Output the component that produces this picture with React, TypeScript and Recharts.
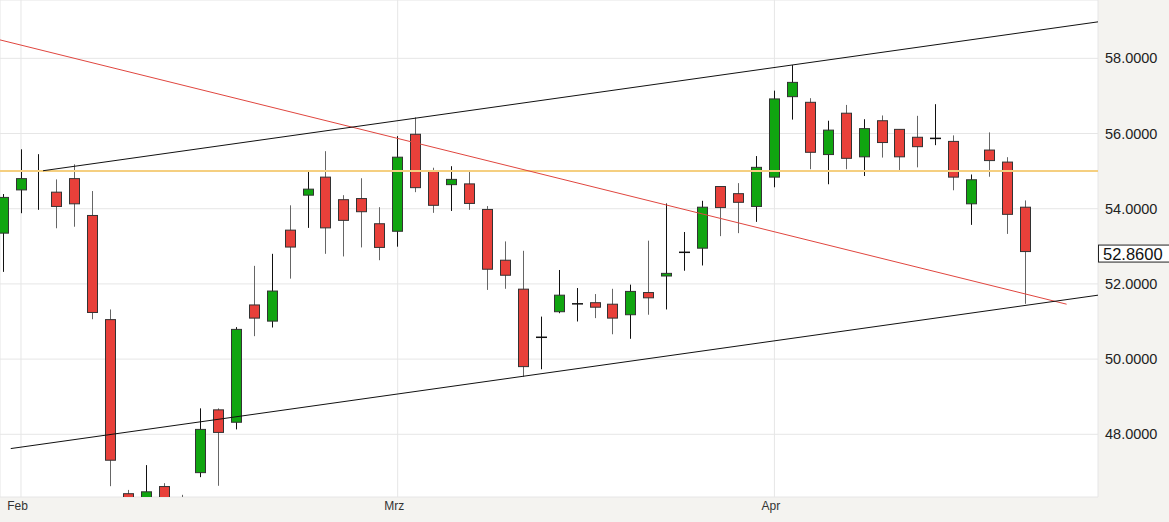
import React from 'react'
import { ComposedChart, Bar, XAxis, YAxis, CartesianGrid, ReferenceLine } from 'recharts'

// daily OHLC (index 0 = first partly visible candle)
const opens = [
  53.35, 54.5, 55.0, 54.44, 54.8, 53.82, 51.05, 46.42, 45.95, 46.61,
  46.2, 46.98, 48.65, 48.32, 51.44, 51.01, 53.43, 54.36, 54.84, 54.24,
  54.27, 53.6, 53.4, 55.98, 55.01, 54.64, 54.66, 53.98, 52.63, 51.86,
  50.58, 51.26, 51.47, 51.5, 51.46, 51.18, 51.77, 52.21, 52.84, 52.95,
  54.59, 54.4, 54.06, 54.84, 56.98, 56.83, 55.44, 56.54, 55.38, 56.34,
  56.11, 55.9, 55.87, 55.79, 54.13, 55.56, 55.24, 54.04,
]
const highs = [
  54.39, 55.58, 55.45, 54.78, 55.18, 54.47, 51.32, 46.52, 47.18, 46.7,
  46.39, 48.69, 48.69, 50.85, 52.48, 52.8, 54.09, 54.98, 55.53, 54.36,
  54.81, 54.04, 55.93, 56.43, 55.09, 55.13, 55.0, 54.07, 53.13, 52.88,
  51.13, 52.37, 51.89, 51.73, 51.87, 51.98, 53.15, 54.14, 53.38, 54.21,
  54.59, 54.68, 55.4, 57.14, 57.82, 56.94, 56.34, 56.76, 56.38, 56.48,
  56.11, 56.47, 56.78, 55.95, 54.91, 56.03, 55.37, 54.22,
]
const lows = [
  52.32, 53.88, 53.97, 53.48, 53.52, 51.06, 46.62, 45.6, 45.7, 45.8,
  45.7, 46.86, 46.63, 48.13, 50.61, 50.84, 52.14, 53.49, 52.8, 52.73,
  52.97, 52.63, 52.99, 54.44, 53.89, 53.94, 53.97, 51.84, 51.87, 49.53,
  49.73, 51.22, 51.0, 51.09, 50.66, 50.54, 51.18, 51.32, 52.35, 52.49,
  53.27, 53.35, 53.65, 54.57, 56.37, 55.05, 54.65, 55.05, 54.87, 55.36,
  55.03, 55.1, 55.69, 54.49, 53.57, 54.85, 53.33, 51.47,
]
const closes = [
  54.3, 54.8, 55.0, 54.06, 54.13, 51.24, 47.31, 45.95, 46.47, 46.05,
  45.9, 48.13, 48.05, 50.79, 51.09, 51.81, 52.98, 54.52, 53.49, 53.69,
  53.92, 52.97, 55.37, 54.56, 54.09, 54.78, 54.14, 52.39, 52.23, 49.8,
  50.58, 51.7, 51.47, 51.38, 51.09, 51.8, 51.63, 52.28, 52.84, 54.04,
  54.03, 54.17, 55.1, 56.92, 57.36, 55.5, 56.09, 55.34, 56.13, 55.76,
  55.38, 55.65, 55.87, 54.84, 54.77, 55.28, 53.85, 52.86,
]

const monthTicks = [1, 22, 43]
const monthLabels = ['Feb', 'Mrz', 'Apr']
const priceTicks = [48, 50, 52, 54, 56, 58]
const lastPrice = 52.86
const hLevel = 55.0

const upperChannel = [{ x: 2.23, y: 55.01 }, { x: 61.04, y: 58.97 }]
const lowerChannel = [{ x: 0.43, y: 47.62 }, { x: 61.04, y: 51.7 }]
const downTrend = [{ x: -0.17, y: 58.49 }, { x: 59.29, y: 51.46 }]

const data = opens.map((o, i) => ({ i, open: o, high: highs[i], low: lows[i], close: closes[i] }))

const UP = '#10a510'
const DOWN = '#e8403a'

function Candle(props: any) {
  const { x, y, width, height, payload } = props
  if (!payload || x == null) return null
  const { open, close, high, low } = payload
  const top = Math.min(y, y + height)
  const span = Math.abs(height)
  const py = (v: number) => top + ((high - v) / (high - low)) * span
  const cx = Math.round(x + width / 2) + 0.5
  const up = close > open
  const doji = Math.abs(close - open) < 0.005
  const bTop = py(Math.max(open, close))
  const bBot = py(Math.min(open, close))
  const left = Math.round(cx - width / 2)
  return (
    <g>
      <line x1={cx} x2={cx} y1={top} y2={top + span} stroke={up || doji ? '#111' : '#666'} strokeWidth={1} />
      {doji ? (
        <line x1={left} x2={left + width} y1={bTop} y2={bTop} stroke="#111" strokeWidth={1.5} />
      ) : (
        <rect
          x={left + 0.5}
          y={bTop}
          width={width - 1}
          height={Math.max(bBot - bTop, 1)}
          fill={up ? UP : DOWN}
          stroke="#333"
          strokeWidth={1}
        />
      )}
    </g>
  )
}

function PriceTag(props: any) {
  const vb = props.viewBox || {}
  const right = (vb.x || 0) + (vb.width || 0)
  const cy = (vb.y || 0) + 2
  return (
    <g>
      <rect x={right + 0.5} y={cy - 8.5} width={80} height={17} fill="#fff" stroke="#222" strokeWidth={1} />
      <text x={right + 5} y={cy} dominantBaseline="central" fontSize={16.5} fill="#111" fontFamily="Liberation Sans, Arial, sans-serif">
        {lastPrice.toFixed(4)}
      </text>
    </g>
  )
}

export default function App() {
  return (
    <div style={{ width: 1169, height: 522, background: '#f4f3f0' }}>
      <style>{`body{margin:0}`}</style>
      <ComposedChart
        width={1169}
        height={522}
        data={data}
        margin={{ top: 0, right: 0, bottom: 0, left: 0 }}
        style={{ fontFamily: 'Liberation Sans, Arial, sans-serif' }}
      >
        <CartesianGrid stroke="#e6e6e6" fill="#ffffff" ticks={undefined} />
        <XAxis
          dataKey="i"
          type="number"
          domain={[-0.17, 61.04]}
          allowDataOverflow
          ticks={monthTicks}
          tickFormatter={(v: number) => monthLabels[monthTicks.indexOf(v)] ?? ''}
          axisLine={false}
          tickLine={false}
          tickSize={0}
          tickMargin={4}
          height={25}
          tick={{ fontSize: 12, fill: '#333', dx: -3.5 }}
        />
        <YAxis
          orientation="right"
          type="number"
          domain={[46.332, 59.551]}
          allowDataOverflow
          ticks={priceTicks}
          tickFormatter={(v: number) => v.toFixed(4)}
          axisLine={false}
          tickLine={false}
          tickSize={0}
          tickMargin={7}
          width={71}
          tick={{ fontSize: 14.5, fill: '#222' }}
        />
        <ReferenceLine y={hLevel} stroke="#f5cf80" strokeWidth={2} />
        <ReferenceLine segment={downTrend} stroke="#e0463f" strokeWidth={1} ifOverflow="hidden" />
        <ReferenceLine segment={upperChannel} stroke="#111" strokeWidth={1} ifOverflow="hidden" />
        <ReferenceLine segment={lowerChannel} stroke="#111" strokeWidth={1} ifOverflow="hidden" />
        <Bar
          dataKey={(d: any) => [d.low, d.high]}
          barSize={11}
          shape={<Candle />}
          isAnimationActive={false}
        />
        <ReferenceLine y={lastPrice} stroke="none" ifOverflow="visible" label={(p: any) => <PriceTag {...p} />} />
      </ComposedChart>
    </div>
  )
}
